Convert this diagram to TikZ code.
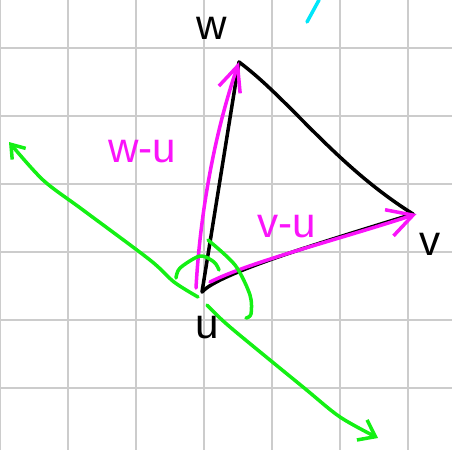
\documentclass[tikz,border=0pt]{standalone}
\usepackage{fontspec}
\setmainfont{Liberation Sans}
\usetikzlibrary{arrows.meta}
\definecolor{gridgray}{RGB}{204,204,204}
\definecolor{pengreen}{RGB}{20,240,20}
\definecolor{penmagenta}{RGB}{250,20,250}
\definecolor{pencyan}{RGB}{0,230,250}
\begin{document}
\begin{tikzpicture}[x=0.02cm,y=-0.02cm,
  pen/.style={line width=2pt,line cap=round,line join=round},
  lbl/.style={font=\fontsize{24}{24}\selectfont,inner sep=0pt}]
\useasboundingbox (0,0) rectangle (452,450);
% grid
\foreach \gx in {0,68,...,408}
  \draw[gridgray,line width=1.1pt] (\gx,0) -- (\gx,450);
\foreach \gy in {48,116,...,388}
  \draw[gridgray,line width=1.1pt] (0,\gy) -- (452,\gy);
% points
\coordinate (u) at (202,292);
\coordinate (w) at (239,62);
\coordinate (v) at (413,214);
\coordinate (uw) at (196,288);
\coordinate (uv) at (210,282);
% triangle
\draw[pen,black] (u) -- (w) .. controls (290,100) and (335,165) .. (v);
\draw[pen,black] (u) .. controls (220,272) and (330,240) .. (v);
% w-u and v-u
\draw[pen,penmagenta,-{Straight Barb[length=0.5cm,width=0.45cm]}]
  (uw) .. controls (200,215) and (214,135) .. (w);
\draw[pen,penmagenta,-{Straight Barb[length=0.5cm,width=0.55cm]}]
  (uv) .. controls (250,262) and (330,242) .. ([xshift=2]v);
% green lines
\draw[pen,pengreen,-{Straight Barb[length=0.25cm,width=0.35cm]}]
  plot[smooth] coordinates {(198,297) (174,282) (150,260) (83,210) (43,180) (9,142)};
\draw[pen,pengreen,-{Straight Barb[length=0.3cm,width=0.45cm]}]
  plot[smooth] coordinates {(207,305) (230,327) (303,387) (340,417) (378,438)};
\draw[pen,pengreen]
  plot[smooth] coordinates {(176,278) (180,268) (200,256) (214,262) (219,270)};
\draw[pen,pengreen]
  plot[smooth] coordinates {(208,240) (235,265) (250,295) (251,314) (246,318)};
% labels
\node[lbl] (lw) at (212,28) {w};
\node[lbl] (lv) at (430,244) {v};
\node[lbl] (lu) at (207,328) {u};
\node[lbl,penmagenta] (lwu) at (142,152) {w-u};
\node[lbl,penmagenta] (lvu) at (287,227) {v-u};
\draw[pen,pencyan] (307,22) -- (319,0);
\end{tikzpicture}
\end{document}
